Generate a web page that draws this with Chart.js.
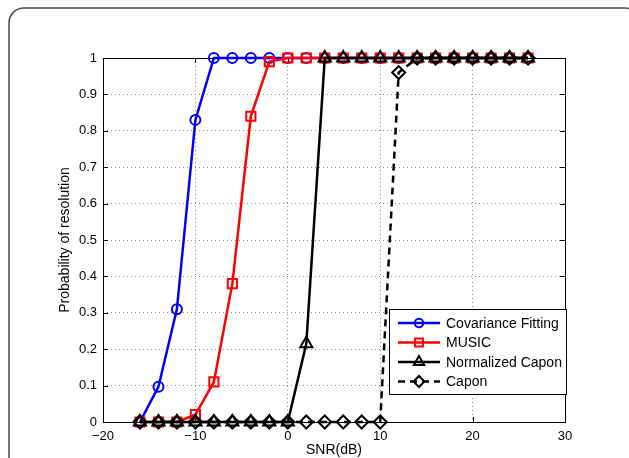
<!DOCTYPE html>
<html>
<head>
<meta charset="utf-8">
<script src="https://cdn.jsdelivr.net/npm/chart.js@4.4.0/dist/chart.umd.min.js"></script>
<style>
  html, body { margin: 0; padding: 0; background: #fff; }
  #wrap { width: 629px; height: 458px; }
</style>
</head>
<body>
<div id="wrap"><canvas id="chart" width="629" height="458"></canvas></div>
<script>
// SNR values (dB) at which each method was evaluated
const snr = [-16, -14, -12, -10, -8, -6, -4, -2, 0, 2, 4, 6, 8, 10, 12, 14, 16, 18, 20, 22, 24, 26];

const covarianceFitting = [0, 0.097, 0.31, 0.83, 1, 1, 1, 1, 1, 1, 1, 1, 1, 1, 1, 1, 1, 1, 1, 1, 1, 1];
const music = [0, 0, 0, 0.02, 0.11, 0.38, 0.84, 0.99, 1, 1, 1, 1, 1, 1, 1, 1, 1, 1, 1, 1, 1, 1];
const normalizedCapon = [0, 0, 0, 0, 0, 0, 0, 0, 0, 0.215, 1, 1, 1, 1, 1, 1, 1, 1, 1, 1, 1, 1];
const capon = [0, 0, 0, 0, 0, 0, 0, 0, 0, 0, 0, 0, 0, 0, 0.96, 1, 1, 1, 1, 1, 1, 1];

const xTicks = [-20, -10, 0, 10, 20, 30];
const xTickLabels = ["\u221220", "\u221210", "0", "10", "20", "30"];
const yTicks = [0, 0.1, 0.2, 0.3, 0.4, 0.5, 0.6, 0.7, 0.8, 0.9, 1];
const yTickLabels = ["0", "0.1", "0.2", "0.3", "0.4", "0.5", "0.6", "0.7", "0.8", "0.9", "1"];

const FONT = "'Liberation Sans', Arial, Helvetica, sans-serif";

function series(label, values, color, style, radius, dash, order) {
  return {
    label,
    data: snr.map((x, i) => ({ x, y: values[i] })),
    borderColor: color,
    backgroundColor: color,
    borderWidth: 2.5,
    borderDash: dash,
    pointStyle: style,
    pointRadius: radius,
    pointHoverRadius: radius,
    pointBorderWidth: 2,
    pointBorderColor: color,
    pointBackgroundColor: "rgba(0,0,0,0)",
    tension: 0,
    clip: false,
    order
  };
}

// figure frame, axes box, inward ticks, legend and axis titles
const matlabLook = {
  id: "matlabLook",
  beforeDraw(chart) {
    const ctx = chart.ctx;
    ctx.save();
    ctx.fillStyle = "#fff";
    ctx.fillRect(0, 0, chart.width, chart.height);
    const l = 9, t = 8, r = 640, b = 480, rad = 15;
    ctx.beginPath();
    ctx.moveTo(l + rad, t);
    ctx.lineTo(r - rad, t);
    ctx.arcTo(r, t, r, t + rad, rad);
    ctx.lineTo(r, b);
    ctx.lineTo(l, b);
    ctx.lineTo(l, t + rad);
    ctx.arcTo(l, t, l + rad, t, rad);
    ctx.closePath();
    ctx.strokeStyle = "#4a4a4a";
    ctx.lineWidth = 1.5;
    ctx.stroke();
    ctx.restore();
  },
  beforeDatasetsDraw(chart) {
    const { ctx, chartArea: a, scales } = chart;
    ctx.save();
    ctx.strokeStyle = "#000";
    ctx.lineWidth = 1;
    ctx.setLineDash([]);
    ctx.strokeRect(a.left + 0.5, a.top + 0.5, a.right - a.left, a.bottom - a.top);
    ctx.beginPath();
    xTicks.forEach((v) => {
      const px = Math.round(scales.x.getPixelForValue(v)) + 0.5;
      ctx.moveTo(px, a.bottom);
      ctx.lineTo(px, a.bottom - 5);
      ctx.moveTo(px, a.top);
      ctx.lineTo(px, a.top + 5);
    });
    yTicks.forEach((v) => {
      const py = Math.round(scales.y.getPixelForValue(v)) + 0.5;
      ctx.moveTo(a.left, py);
      ctx.lineTo(a.left + 5, py);
      ctx.moveTo(a.right, py);
      ctx.lineTo(a.right - 5, py);
    });
    ctx.stroke();
    ctx.restore();
  },
  afterDraw(chart) {
    const { ctx, chartArea: a } = chart;
    ctx.save();
    // axis titles
    ctx.fillStyle = "#000";
    ctx.font = "14px " + FONT;
    ctx.textAlign = "center";
    ctx.textBaseline = "middle";
    ctx.fillText("SNR(dB)", (a.left + a.right) / 2, 450);
    ctx.save();
    ctx.translate(65, (a.top + a.bottom) / 2);
    ctx.rotate(-Math.PI / 2);
    ctx.fillText("Probability of resolution", 0, 0);
    ctx.restore();

    // legend
    const box = { left: 389, top: 309, right: a.right + 1, bottom: 394 };
    ctx.fillStyle = "#fff";
    ctx.fillRect(box.left, box.top, box.right - box.left, box.bottom - box.top);
    ctx.strokeStyle = "#000";
    ctx.lineWidth = 1;
    ctx.strokeRect(box.left + 0.5, box.top + 0.5, box.right - box.left, box.bottom - box.top);
    const rows = [323, 342.5, 362, 381.5];
    ctx.textAlign = "left";
    ctx.font = "14px " + FONT;
    chart.data.datasets.forEach((ds, i) => {
      const y = rows[i];
      ctx.strokeStyle = ds.borderColor;
      ctx.lineWidth = ds.borderWidth;
      ctx.setLineDash(ds.borderDash || []);
      ctx.beginPath();
      ctx.moveTo(398, y);
      ctx.lineTo(440, y);
      ctx.stroke();
      ctx.setLineDash([]);
      ctx.fillStyle = "rgba(0,0,0,0)";
      ctx.lineWidth = ds.pointBorderWidth;
      Chart.helpers.drawPoint(ctx, {
        pointStyle: ds.pointStyle,
        radius: ds.pointRadius * 0.85,
        rotation: 0,
        borderWidth: ds.pointBorderWidth
      }, 419, y);
      ctx.fillStyle = "#000";
      ctx.fillText(ds.label, 446, y + 1);
    });
    ctx.restore();
  }
};

new Chart(document.getElementById("chart").getContext("2d"), {
  type: "line",
  data: {
    datasets: [
      series("Covariance Fitting", covarianceFitting, "#0000ff", "circle", 5, [], 4),
      series("MUSIC", music, "#ff0000", "rect", 6.5, [], 3),
      series("Normalized Capon", normalizedCapon, "#000000", "triangle", 7, [], 2),
      series("Capon", capon, "#000000", "rectRot", 6.5, [7, 5], 1)
    ]
  },
  options: {
    responsive: false,
    animation: false,
    events: [],
    layout: { padding: { left: 0, top: 58, right: 64, bottom: 0 } },
    plugins: { legend: { display: false }, tooltip: { enabled: false } },
    scales: {
      x: {
        type: "linear",
        min: -20,
        max: 30,
        afterBuildTicks: (scale) => { scale.ticks = xTicks.map((value) => ({ value })); },
        afterFit: (scale) => { scale.height = 36; },
        ticks: {
          padding: 7,
          color: "#000",
          maxRotation: 0,
          autoSkip: false,
          font: { family: FONT, size: 13 },
          callback: (value) => xTickLabels[xTicks.indexOf(value)]
        },
        grid: { color: "#8c8c8c", lineWidth: 1, drawTicks: false },
        border: { display: false, dash: [1, 3] }
      },
      y: {
        type: "linear",
        min: 0,
        max: 1,
        afterBuildTicks: (scale) => { scale.ticks = yTicks.map((value) => ({ value })); },
        afterFit: (scale) => { scale.width = 103; },
        ticks: {
          padding: 6,
          color: "#000",
          autoSkip: false,
          font: { family: FONT, size: 13 },
          callback: (value) => yTickLabels[Math.round(value * 10)]
        },
        grid: { color: "#8c8c8c", lineWidth: 1, drawTicks: false },
        border: { display: false, dash: [1, 3] }
      }
    }
  },
  plugins: [matlabLook]
});
</script>
</body>
</html>
